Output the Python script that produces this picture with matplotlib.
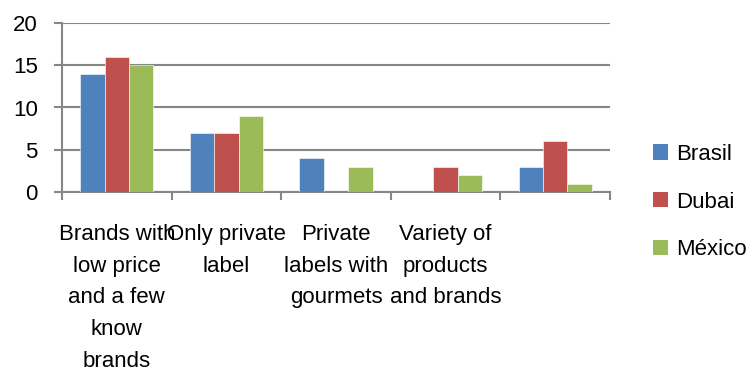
import matplotlib
matplotlib.use("Agg")
import matplotlib.pyplot as plt
import numpy as np
from matplotlib.patches import Patch

categories = ["Brands with\nlow price\nand a few\nknow\nbrands",
              "Only private\nlabel",
              "Private\nlabels with\ngourmets",
              "Variety of\nproducts\nand brands",
              ""]
series_names = ["Brasil", "Dubai", "México"]
brasil = [14, 7, 4, 0, 3]
dubai = [16, 7, 0, 3, 6]
mexico = [15, 9, 3, 2, 1]
colors = ["#4F81BD", "#C0504D", "#9BBB59"]

plt.rcParams['font.family'] = ['Liberation Sans', 'DejaVu Sans']
FS = 16

W, H = 753, 374
fig = plt.figure(figsize=(W / 100, H / 100), dpi=100)
ax = fig.add_axes([62 / W, (H - 192) / H, (610 - 62) / W, (192 - 23) / H])

x = np.arange(len(categories))
w = 1 / 1.5 / 3
for i, (vals, c) in enumerate(zip([brasil, dubai, mexico], colors)):
    ax.bar(x + (i - 1) * w, vals, w, color=c, edgecolor="white", linewidth=0.4, zorder=3)

ax.set_xlim(-0.5, len(categories) - 0.5)
ax.set_ylim(0, 20)
ax.set_yticks([0, 5, 10, 15, 20])
ax.yaxis.grid(True, color="#868686", linewidth=1.5, zorder=0)
ax.set_axisbelow(True)

for s in ["top", "right"]:
    ax.spines[s].set_visible(False)
for s in ["left", "bottom"]:
    ax.spines[s].set_color("#868686")
    ax.spines[s].set_linewidth(1.5)

ax.set_xticks(x)
ax.set_xticklabels(categories, fontsize=FS, linespacing=1.67, va="top")
ax.set_xticks(np.arange(-0.5, len(categories), 1), minor=True)
ax.tick_params(axis="x", which="major", length=0, pad=23)
ax.tick_params(axis="x", which="minor", length=6, width=1.5, color="#868686", direction="out")
ax.tick_params(axis="y", length=5.5, width=1.5, color="#868686", labelsize=FS, pad=12)

handles = [Patch(facecolor=c, edgecolor="none") for c in colors]
fig.legend(handles, series_names, loc="center left", bbox_to_anchor=(653 / W, 1 - 202 / H),
           frameon=False, fontsize=FS, labelspacing=1.2, handlelength=0.68, handleheight=0.68,
           handletextpad=0.36, borderaxespad=0, borderpad=0)

fig.savefig("out.png", dpi=100)
